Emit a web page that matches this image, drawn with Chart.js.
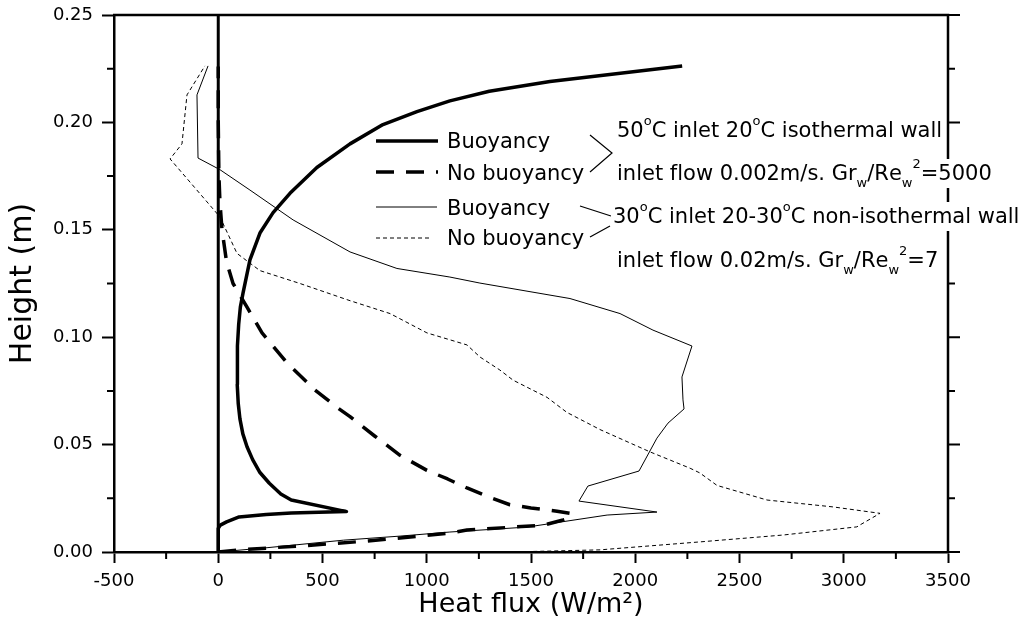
<!DOCTYPE html>
<html>
<head>
<meta charset="utf-8">
<script src="https://cdn.jsdelivr.net/npm/chart.js@4"></script>
<style>
  html, body { margin: 0; padding: 0; background: #fff; }
</style>
</head>
<body>
<canvas id="chart" width="1031" height="640"></canvas>
<script>
// heat flux (W/m2) vs height (m), pairs
const buoy50 = [
  [0, 0], [0, 0.011], [10, 0.0125], [40, 0.014], [100, 0.0163], [230, 0.0175],
  [350, 0.0182], [615, 0.0188], [350, 0.0242], [300, 0.027], [245, 0.032],
  [200, 0.037], [165, 0.043], [138, 0.049], [118, 0.055], [104, 0.062],
  [96, 0.069], [91, 0.078], [91, 0.087], [93, 0.0960], [98, 0.106], [106, 0.114],
  [119, 0.1206], [152, 0.136], [200, 0.1485], [263, 0.158], [344, 0.167],
  [473, 0.179], [632, 0.190], [790, 0.199], [953, 0.205], [1111, 0.210],
  [1300, 0.2145], [1591, 0.219], [2225, 0.2263],
];
const noBuoy50 = [
  [0, 0], [100, 0.001], [392, 0.0028], [700, 0.005], [872, 0.0065], [1112, 0.0088],
  [1193, 0.0102], [1400, 0.0115], [1560, 0.0125], [1654, 0.0149], [1690, 0.016],
  [1690, 0.018], [1625, 0.019], [1500, 0.0205], [1399, 0.022], [1300, 0.0255],
  [1193, 0.0298], [1100, 0.034], [1001, 0.038], [872, 0.045], [750, 0.054],
  [632, 0.063], [574, 0.067], [464, 0.0754], [330, 0.088], [210, 0.102],
  [138, 0.114], [71, 0.125], [40, 0.135], [18, 0.150], [8, 0.163], [3, 0.176],
  [0, 0.2], [0, 0.226],
];
const buoy30 = [
  [0, 0], [234, 0.002], [600, 0.0055], [872, 0.0074], [1111, 0.0093], [1481, 0.0116],
  [1865, 0.0172], [2104, 0.0186], [1730, 0.0237], [1773, 0.0307], [2018, 0.0377],
  [2104, 0.053], [2157, 0.060], [2234, 0.0666], [2229, 0.0708], [2224, 0.0815],
  [2272, 0.0959], [2085, 0.1033], [1927, 0.111], [1687, 0.118], [1255, 0.1252],
  [1111, 0.128], [857, 0.132], [632, 0.1397], [359, 0.1546], [152, 0.1685],
  [8, 0.178], [-97, 0.1834], [-102, 0.2128], [-49, 0.2263],
];
const noBuoy30 = [
  [0, 0], [1400, 0], [1831, 0.001], [2310, 0.0047], [2709, 0.0079], [3063, 0.0117],
  [3078, 0.0126], [3174, 0.018], [2948, 0.021], [2632, 0.0242], [2392, 0.031],
  [2310, 0.0368], [2263, 0.039], [2071, 0.0466], [1831, 0.057], [1672, 0.065],
  [1577, 0.072], [1414, 0.080], [1351, 0.0847], [1255, 0.0908], [1193, 0.0964],
  [1001, 0.102], [824, 0.111], [632, 0.117], [392, 0.125], [200, 0.131],
  [90, 0.139], [8, 0.156], [-231, 0.183], [-174, 0.190], [-150, 0.2128],
  [-64, 0.2263],
];
const zeroLine = [[0, 0], [0, 0.25]];

const xTickValues = [-500, 0, 500, 1000, 1500, 2000, 2500, 3000, 3500];
const xMinorTicks = [-250, 250, 750, 1250, 1750, 2250, 2750, 3250];
const yTickValues = [0, 0.05, 0.10, 0.15, 0.20, 0.25];
const yMinorTicks = [0.025, 0.075, 0.125, 0.175, 0.225];

const seriesLabels = ["Buoyancy", "No buoyancy", "Buoyancy", "No buoyancy"];
// ^x = superscript char, _x = subscript char
const caseNotes = [
  "50^oC inlet 20^oC isothermal wall",
  "inlet flow 0.002m/s. Gr_w/Re_w^2=5000",
  "30^oC inlet 20-30^oC non-isothermal wall",
  "inlet flow 0.02m/s. Gr_w/Re_w^2=7",
];

const FONT = "'DejaVu Sans', 'Liberation Sans', sans-serif";
Chart.defaults.font.family = FONT;
Chart.defaults.color = "#000";

const toPts = (arr) => arr.map(([x, y]) => ({ x, y }));

function richParts(str) {
  const parts = [];
  for (let i = 0; i < str.length; i++) {
    let ch = str[i];
    let mode = "n";
    if ((ch === "^" || ch === "_") && i + 1 < str.length) {
      mode = ch === "^" ? "sup" : "sub";
      ch = str[++i];
    }
    parts.push({ ch, mode });
  }
  return parts;
}

function drawRich(ctx, str, x, y, bg) {
  const parts = richParts(str);
  const fontFor = (m) => (m === "n" ? "21px " : "13px ") + FONT;
  let w = 0;
  parts.forEach((p) => { ctx.font = fontFor(p.mode); p.w = ctx.measureText(p.ch).width; w += p.w; });
  if (bg) {
    ctx.fillStyle = "#fff";
    ctx.fillRect(x - 2, y - 21, w + 4, 29);
  }
  ctx.fillStyle = "#000";
  ctx.textBaseline = "alphabetic";
  ctx.textAlign = "left";
  let cx = x;
  parts.forEach((p) => {
    ctx.font = fontFor(p.mode);
    const dy = p.mode === "sup" ? -12 : p.mode === "sub" ? 7 : 0;
    ctx.fillText(p.ch, cx, y + dy);
    cx += p.w;
  });
}

const decor = {
  id: "decor",
  afterDraw(chart) {
    const { ctx, chartArea: a, scales: { x, y } } = chart;
    ctx.save();
    ctx.strokeStyle = "#000";
    ctx.lineWidth = 2.5;
    ctx.beginPath();
    ctx.moveTo(a.left - 1, a.top);
    ctx.lineTo(a.right, a.top);
    ctx.lineTo(a.right, a.bottom);
    ctx.stroke();

    // minor ticks + ticks on the right axis
    ctx.lineWidth = 2;
    ctx.beginPath();
    xMinorTicks.forEach((v) => {
      const px = x.getPixelForValue(v);
      ctx.moveTo(px, a.bottom); ctx.lineTo(px, a.bottom + 7);
    });
    yMinorTicks.forEach((v) => {
      const py = y.getPixelForValue(v);
      ctx.moveTo(a.left, py); ctx.lineTo(a.left - 7, py);
      ctx.moveTo(a.right, py); ctx.lineTo(a.right + 7, py);
    });
    yTickValues.forEach((v) => {
      const py = y.getPixelForValue(v);
      ctx.moveTo(a.right, py); ctx.lineTo(a.right + 12, py);
    });
    ctx.stroke();

    // legend
    const rowsY = [141, 172, 207, 238];
    const sampleEnd = [438, 438, 437, 431];
    chart.data.datasets.slice(0, 4).forEach((ds, i) => {
      ctx.beginPath();
      ctx.lineWidth = ds.borderWidth;
      ctx.setLineDash(ds.borderDash || []);
      ctx.moveTo(376, rowsY[i]);
      ctx.lineTo(sampleEnd[i], rowsY[i]);
      ctx.stroke();
    });
    ctx.setLineDash([]);
    ctx.fillStyle = "#000";
    ctx.font = "21px " + FONT;
    const base = [148, 180, 215, 245];
    seriesLabels.forEach((t, i) => ctx.fillText(t, 447, base[i]));

    // brackets pointing at the case notes
    ctx.lineWidth = 1.2;
    ctx.beginPath();
    ctx.moveTo(590, 135); ctx.lineTo(612, 153); ctx.lineTo(590, 172);
    ctx.moveTo(580, 206); ctx.lineTo(611, 216);
    ctx.moveTo(590, 237); ctx.lineTo(610, 226);
    ctx.stroke();

    const noteX = [617, 617, 613, 617];
    const noteY = [137, 180, 223, 267];
    caseNotes.forEach((t, i) => drawRich(ctx, t, noteX[i], noteY[i], true));
    ctx.restore();
  },
};

new Chart(document.getElementById("chart"), {
  type: "scatter",
  data: {
    datasets: [
      { label: seriesLabels[0], data: toPts(buoy50), borderWidth: 3.5 },
      { label: seriesLabels[1], data: toPts(noBuoy50), borderWidth: 3.5, borderDash: [18, 12] },
      { label: seriesLabels[2], data: toPts(buoy30), borderWidth: 1 },
      { label: seriesLabels[3], data: toPts(noBuoy30), borderWidth: 1, borderDash: [4, 3] },
      { label: "zero", data: toPts(zeroLine), borderWidth: 3 },
    ].map((d) => ({
      ...d,
      showLine: true,
      borderColor: "#000",
      backgroundColor: "#000",
      borderJoinStyle: "round",
      pointRadius: 0,
      tension: 0,
      fill: false,
    })),
  },
  options: {
    responsive: false,
    animation: false,
    devicePixelRatio: 1,
    layout: { padding: { top: 15, right: 83, bottom: 0, left: 0 } },
    plugins: { legend: { display: false }, tooltip: { enabled: false } },
    scales: {
      x: {
        type: "linear",
        min: -500,
        max: 3500,
        afterBuildTicks: (s) => { s.ticks = xTickValues.map((value) => ({ value })); },
        afterFit: (s) => { s.height = 88; },
        grid: { drawOnChartArea: false, color: "#000", tickLength: 11, tickWidth: 2 },
        border: { color: "#000", width: 2.5 },
        ticks: { color: "#000", font: { size: 18 }, padding: 8, maxRotation: 0, callback: (v) => String(v) },
        title: { display: true, text: "Heat flux (W/m²)", color: "#000", font: { size: 27 }, padding: { top: 0, bottom: 19 } },
      },
      y: {
        type: "linear",
        min: 0,
        max: 0.25,
        afterBuildTicks: (s) => { s.ticks = yTickValues.map((value) => ({ value })); },
        afterFit: (s) => { s.width = 114; s.paddingTop = 0; s.paddingBottom = 0; },
        grid: { drawOnChartArea: false, color: "#000", tickLength: 12, tickWidth: 2 },
        border: { color: "#000", width: 2.5 },
        ticks: { color: "#000", font: { size: 18 }, padding: 9, callback: (v) => v.toFixed(2) },
        title: { display: true, text: "Height (m)", color: "#000", font: { size: 30 }, padding: { top: 5, bottom: 0 } },
      },
    },
  },
  plugins: [decor],
});
</script>
</body>
</html>
